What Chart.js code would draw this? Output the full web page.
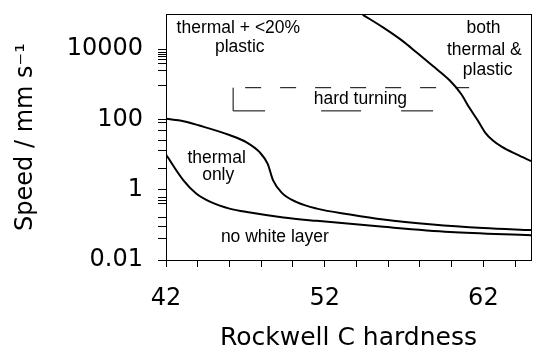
<!DOCTYPE html>
<html>
<head>
<meta charset="utf-8">
<script src="https://cdn.jsdelivr.net/npm/chart.js@4/dist/chart.umd.min.js"></script>
<style>
  html, body { margin: 0; padding: 0; background: #fff; }
  #wrap { width: 544px; height: 361px; }
</style>
</head>
<body>
<div id="wrap"><canvas id="c" width="544" height="361"></canvas></div>
<script>
// ---- data (Rockwell C hardness vs speed, mm/s) ----
const noWhiteHardness = [42, 43.1, 43.9, 44.8, 46.0, 47.3, 49.4, 51.5, 55.7, 59.9, 65];
const noWhiteSpeed    = [10, 1.85, 0.78, 0.45, 0.29, 0.224, 0.162, 0.13, 0.088, 0.063, 0.051];

const thermalHardness = [42, 43.1, 44.1, 46.0, 47.1, 47.9, 48.4, 48.75, 49.3, 50.2, 51.5, 53.6, 55.7, 58.8, 62.0, 65];
const thermalSpeed    = [104, 89, 67, 36, 22, 11.7, 5.5, 1.85, 0.81, 0.45, 0.29, 0.197, 0.142, 0.103, 0.082, 0.071];

const plasticHardness = [54.4, 55.7, 56.9, 57.8, 58.8, 59.9, 60.6, 61.1, 61.65, 62.1, 62.6, 63.2, 64.1, 65];
const plasticSpeed    = [95000, 40900, 17200, 8000, 3360, 1260, 530, 221, 93, 43, 25, 16.2, 10.1, 6.5];

// hard turning window
const hardTurningHardness = [46.23, 61.1];
const hardTurningBottomEnd = 59.2;
const hardTurningSpeed = [175, 800];

// axis ticks
const xTickValues  = [42, 44, 46, 48, 50, 52, 54, 56, 58, 60, 62, 64];
const xTickLabels  = ['42', '52', '62'];
const yTickValues  = [0.01, 0.04, 0.09, 0.16, 0.4, 0.5, 0.6, 1, 4, 13, 25, 50, 80, 100, 900, 2500, 4000, 5000, 6000, 7000, 8000, 10000];
const yTickLabels  = ['0.01', '1', '100', '10000'];

// region labels (text + location in data units)
const regionTexts    = ['thermal + <20%', 'plastic', 'both', 'thermal &', 'plastic', 'hard turning', 'thermal', 'only', 'no white layer'];
const regionHardness = [46.56, 46.65, 62.01, 62.06, 62.27, 54.25, 45.19, 45.29, 48.86];
const regionSpeed    = [40600, 11030, 39100, 9490, 2570, 378, 8.07, 2.56, 0.0454];

const pts = (xs, ys) => xs.map((x, i) => ({ x: x, y: ys[i] }));

const regionLabelPlugin = {
  id: 'regionLabels',
  afterDatasetsDraw(chart) {
    const { ctx, scales } = chart;
    ctx.save();
    ctx.font = '17.5px "Liberation Sans", Arial, sans-serif';
    ctx.fillStyle = '#000';
    ctx.textAlign = 'center';
    ctx.textBaseline = 'middle';
    regionTexts.forEach((t, i) => {
      ctx.fillText(t, scales.x.getPixelForValue(regionHardness[i]), scales.y.getPixelForValue(regionSpeed[i]));
    });
    ctx.restore();
  }
};

Chart.defaults.font.family = '"DejaVu Sans", Verdana, sans-serif';
Chart.defaults.color = '#000';

const curveStyle = { borderColor: '#000', borderWidth: 2, pointRadius: 0, fill: false, cubicInterpolationMode: 'monotone' };
const boxStyle = { borderColor: '#000', borderWidth: 1, pointRadius: 0, fill: false, tension: 0 };

const noPad = s => { s.paddingTop = 0; s.paddingBottom = 0; s.paddingLeft = 0; s.paddingRight = 0; };

new Chart(document.getElementById('c'), {
  type: 'line',
  data: {
    datasets: [
      Object.assign({ label: 'no white layer', data: pts(noWhiteHardness, noWhiteSpeed) }, curveStyle),
      Object.assign({ label: 'thermal only', data: pts(thermalHardness, thermalSpeed) }, curveStyle),
      Object.assign({ label: 'both thermal & plastic', data: pts(plasticHardness, plasticSpeed) }, curveStyle),
      Object.assign({ label: 'hard turning top',
        data: [{ x: hardTurningHardness[0], y: hardTurningSpeed[1] }, { x: hardTurningHardness[1], y: hardTurningSpeed[1] }],
        borderDash: [16, 19], borderDashOffset: 23 }, boxStyle),
      Object.assign({ label: 'hard turning bottom',
        data: [{ x: hardTurningHardness[0], y: hardTurningSpeed[0] }, { x: hardTurningBottomEnd, y: hardTurningSpeed[0] }],
        borderDash: [32, 56, 40, 40] }, boxStyle),
      Object.assign({ label: 'hard turning left',
        data: [{ x: hardTurningHardness[0], y: hardTurningSpeed[0] }, { x: hardTurningHardness[0], y: hardTurningSpeed[1] }] }, boxStyle)
    ]
  },
  options: {
    responsive: false,
    animation: false,
    devicePixelRatio: 1,
    layout: { padding: { top: 14, right: 13, left: 0, bottom: 0 } },
    plugins: { legend: { display: false }, tooltip: { enabled: false } },
    scales: {
      x: {
        type: 'linear', position: 'bottom', min: 42, max: 65,
        afterBuildTicks: s => { s.ticks = xTickValues.map(v => ({ value: v })); },
        afterFit: s => { s.height = 101; noPad(s); },
        ticks: {
          autoSkip: false, maxRotation: 0, padding: 17,
          font: { size: 24 }, color: '#000',
          callback: v => xTickLabels.includes(String(v)) ? String(v) : ''
        },
        grid: { drawOnChartArea: false, tickLength: 7, color: '#000', tickWidth: 1 },
        border: { display: true, color: '#000', width: 1 },
        title: { display: true, text: 'Rockwell C hardness', font: { size: 25 }, color: '#000', padding: { top: 0, bottom: 8 } }
      },
      y: {
        type: 'logarithmic', position: 'left', min: 0.01, max: 100000,
        afterBuildTicks: s => { s.ticks = yTickValues.map(v => ({ value: v })); },
        afterFit: s => { s.width = 166; noPad(s); },
        ticks: {
          autoSkip: false, padding: 15,
          font: { size: 24 }, color: '#000',
          callback: v => { const t = yTickLabels.find(l => Math.abs(parseFloat(l) - v) < 1e-9 * Math.max(1, v)); return t || ''; }
        },
        grid: { drawOnChartArea: false, tickLength: 8, color: '#000', tickWidth: 1 },
        border: { display: true, color: '#000', width: 1 },
        title: { display: true, text: 'Speed / mm s\u207B\u00B9', font: { size: 24 }, color: '#000', padding: { top: 11, bottom: 0 } }
      },
      xTop: {
        type: 'linear', position: 'top', min: 42, max: 65,
        ticks: { display: false }, grid: { display: false },
        border: { display: true, color: '#000', width: 1 },
        afterFit: s => { s.height = 0; noPad(s); }
      },
      yRight: {
        type: 'logarithmic', position: 'right', min: 0.01, max: 100000,
        ticks: { display: false }, grid: { display: false },
        border: { display: true, color: '#000', width: 1 },
        afterFit: s => { s.width = 0; noPad(s); }
      }
    }
  },
  plugins: [regionLabelPlugin]
});
</script>
</body>
</html>
